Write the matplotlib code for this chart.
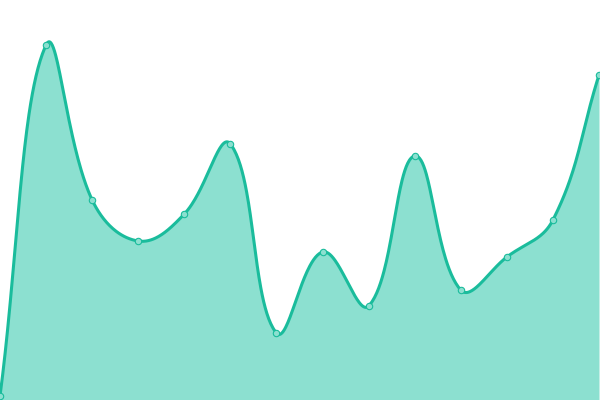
import numpy as np
import matplotlib
matplotlib.use("Agg")
import matplotlib.pyplot as plt

# data
categories = list(range(14))
values = [4, 355, 200, 159, 186, 256, 67, 148, 94, 244, 110, 143, 180, 325]

line_color = "#1abc9c"
fill_color = "#8ce0d0"

fig = plt.figure(figsize=(6, 4), dpi=100)
ax = fig.add_axes([0, 0, 1, 1])
ax.set_xlim(0, 13 * 600 / 599)
ax.set_ylim(0, 400)
ax.axis("off")

# Chart.js-style cardinal spline (tension 0.4), computed in pixel space
xs = np.array(categories, float)
ys = np.array(values, float)
px = xs * 46.07
py = ys.copy()
t = 0.4
n = len(xs)
cp_prev = []
cp_next = []
for i in range(n):
    p0 = (px[max(i - 1, 0)], py[max(i - 1, 0)])
    p1 = (px[i], py[i])
    p2 = (px[min(i + 1, n - 1)], py[min(i + 1, n - 1)])
    d01 = np.hypot(p1[0] - p0[0], p1[1] - p0[1])
    d12 = np.hypot(p2[0] - p1[0], p2[1] - p1[1])
    s01 = d01 / (d01 + d12) if d01 + d12 else 0
    s12 = d12 / (d01 + d12) if d01 + d12 else 0
    fa, fb = t * s01, t * s12
    cp_prev.append((p1[0] - fa * (p2[0] - p0[0]), p1[1] - fa * (p2[1] - p0[1])))
    cp_next.append((p1[0] + fb * (p2[0] - p0[0]), p1[1] + fb * (p2[1] - p0[1])))

cx, cy = [], []
u = np.linspace(0, 1, 60)
for i in range(n - 1):
    P0 = np.array([px[i], py[i]])
    P1 = np.array(cp_next[i])
    P2 = np.array(cp_prev[i + 1])
    P3 = np.array([px[i + 1], py[i + 1]])
    seg = ((1 - u) ** 3)[:, None] * P0 + (3 * (1 - u) ** 2 * u)[:, None] * P1 \
        + (3 * (1 - u) * u ** 2)[:, None] * P2 + (u ** 3)[:, None] * P3
    cx.extend(seg[:, 0] / 46.07)
    cy.extend(seg[:, 1])

ax.fill_between(cx, cy, 0, color=fill_color, lw=0, zorder=1)
ax.plot(cx, cy, color=line_color, lw=2.2, zorder=2, solid_capstyle="round")
ax.plot(xs, ys, "o", ms=4.6, mfc=fill_color, mec=line_color, mew=0.8, zorder=3, clip_on=False)

fig.savefig("out.png", dpi=100)
